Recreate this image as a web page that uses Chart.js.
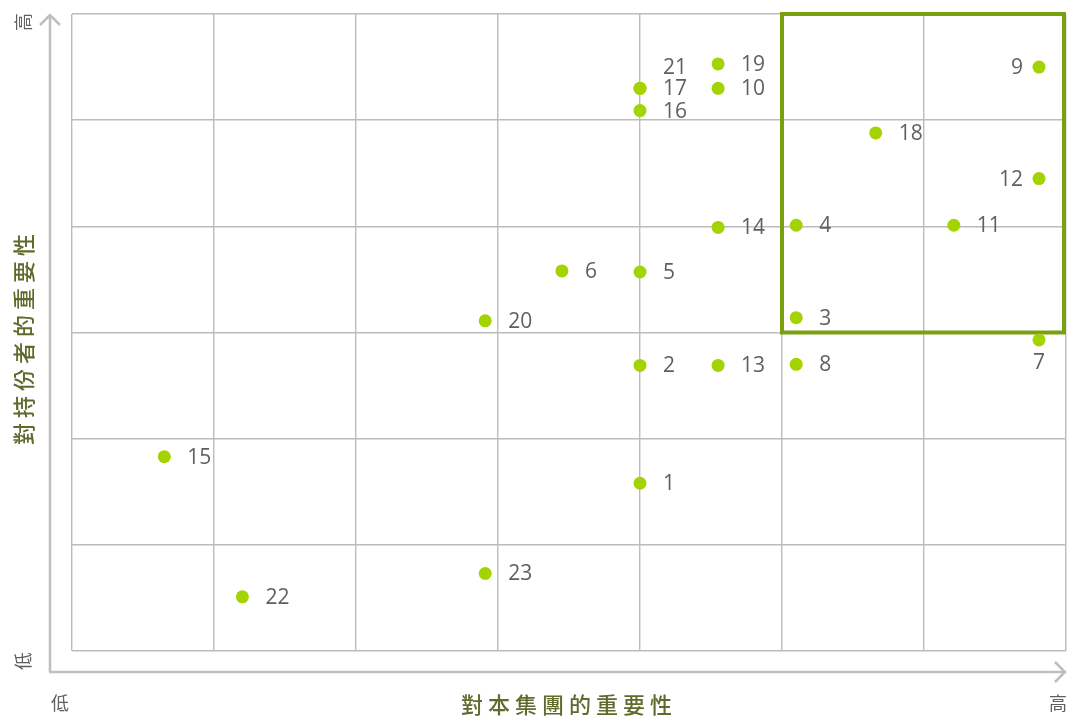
<!DOCTYPE html>
<html>
<head>
<meta charset="utf-8">
<style>
html,body{margin:0;padding:0;background:#fff;}
#wrap{width:1067px;height:717px;}
</style>
<script src="https://cdn.jsdelivr.net/npm/chart.js@4"></script>
</head>
<body>
<div id="wrap"><canvas id="c" width="1067" height="717"></canvas></div>
<script>
// ---- Data ----
const issueIds = ['1','2','3','4','5','6','7','8','9','10','11','12','13','14','15','16','17','18','19','20','21','22','23'];
const groupImportance = [4.00,4.00,5.10,5.10,4.00,3.45,6.81,5.10,6.81,4.55,6.21,6.81,4.55,4.55,0.65,4.00,4.00,5.66,4.55,2.91,4.00,1.20,2.91];
const stakeholderImportance = [1.58,2.69,3.14,4.01,3.57,3.58,2.93,2.70,5.50,5.30,4.01,4.45,2.69,3.99,1.83,5.09,5.30,4.88,5.53,3.11,5.30,0.51,0.73];
const labelSides = ['right','right','right','right','right','right','below','right','left','right','right','left','right','right','right','right','right','right','right','right','above','right','right'];
const xRange = [0, 7];
const yRange = [0, 6];
const highlightX = [5, 7];
const highlightY = [3, 6];
const lowText = '低';
const highText = '高';
const xTitleText = '對本集團的重要性';
const yTitleText = '對持份者的重要性';

const points = issueIds.map((id, i) => ({x: groupImportance[i], y: stakeholderImportance[i]}));

const GRAY_TEXT = '#606060';
const TITLE_COLOR = '#5f6b2d';
const AXIS_COLOR = '#bfbfbf';
const CJK = '"Noto Sans CJK TC", "Noto Sans CJK SC", sans-serif';

const decorPlugin = {
  id: 'decor',
  beforeDatasetsDraw(chart) {
    const {ctx, scales: {x, y}} = chart;
    ctx.save();
    ctx.strokeStyle = '#78a00f';
    ctx.lineWidth = 4;
    const x0 = x.getPixelForValue(highlightX[0]);
    const x1 = x.getPixelForValue(highlightX[1]) - 2;
    const y0 = y.getPixelForValue(highlightY[1]);
    const y1 = y.getPixelForValue(highlightY[0]);
    ctx.strokeRect(x0, y0, x1 - x0, y1 - y0);
    ctx.restore();
  },
  afterDatasetsDraw(chart) {
    const {ctx} = chart;
    const meta = chart.getDatasetMeta(0);
    ctx.save();
    ctx.fillStyle = GRAY_TEXT;
    ctx.font = '21px "Open Sans", sans-serif';
    meta.data.forEach((pt, i) => {
      const side = labelSides[i];
      const txt = issueIds[i];
      if (side === 'right') {
        ctx.textAlign = 'left'; ctx.textBaseline = 'middle';
        ctx.fillText(txt, pt.x + 23, pt.y + 1);
      } else if (side === 'left') {
        ctx.textAlign = 'right'; ctx.textBaseline = 'middle';
        ctx.fillText(txt, pt.x - 16, pt.y + 1);
      } else if (side === 'below') {
        ctx.textAlign = 'center'; ctx.textBaseline = 'middle';
        ctx.fillText(txt, pt.x, pt.y + 23);
      } else if (side === 'above') {
        ctx.textAlign = 'left'; ctx.textBaseline = 'middle';
        ctx.fillText(txt, pt.x + 23, pt.y - 20);
      }
    });
    ctx.restore();
  },
  afterDraw(chart) {
    const {ctx, chartArea: a} = chart;
    const ox = a.left - 22, oy = a.bottom + 21;
    ctx.save();
    ctx.strokeStyle = AXIS_COLOR;
    ctx.lineWidth = 2.5;
    ctx.lineCap = 'butt';
    // vertical axis
    ctx.beginPath();
    ctx.moveTo(ox, oy); ctx.lineTo(ox, a.top + 1);
    ctx.stroke();
    ctx.beginPath();
    ctx.moveTo(ox - 10, a.top + 11); ctx.lineTo(ox, a.top + 1); ctx.lineTo(ox + 10, a.top + 11);
    ctx.stroke();
    // horizontal axis
    ctx.beginPath();
    ctx.moveTo(ox - 1, oy); ctx.lineTo(a.right - 1, oy);
    ctx.stroke();
    ctx.beginPath();
    ctx.moveTo(a.right - 11, oy - 10); ctx.lineTo(a.right - 1, oy); ctx.lineTo(a.right - 11, oy + 10);
    ctx.stroke();

    // low / high labels
    ctx.fillStyle = GRAY_TEXT;
    ctx.font = '18px ' + CJK;
    ctx.textAlign = 'center'; ctx.textBaseline = 'middle';
    ctx.fillText(lowText, 60, 703);
    ctx.fillText(highText, 1058, 703);
    ctx.save(); ctx.translate(23, 22); ctx.rotate(-Math.PI / 2); ctx.fillText(highText, 0, 0); ctx.restore();
    ctx.save(); ctx.translate(23, 661); ctx.rotate(-Math.PI / 2); ctx.fillText(lowText, 0, 0); ctx.restore();

    // titles
    ctx.fillStyle = TITLE_COLOR;
    ctx.font = '500 22px ' + CJK;
    try { ctx.letterSpacing = '5px'; } catch (e) {}
    ctx.textAlign = 'center'; ctx.textBaseline = 'middle';
    ctx.fillText(xTitleText, 569, 705);
    ctx.save(); ctx.translate(24, 337); ctx.rotate(-Math.PI / 2); ctx.fillText(yTitleText, 0, 0); ctx.restore();
    ctx.restore();
  }
};

new Chart(document.getElementById('c'), {
  type: 'scatter',
  data: {
    datasets: [{
      data: points,
      backgroundColor: '#a3d300',
      borderWidth: 0,
      pointRadius: 6.5,
      pointHoverRadius: 6.5,
      clip: false
    }]
  },
  options: {
    responsive: false,
    animation: false,
    events: [],
    layout: {autoPadding: false, padding: {left: 72, top: 14, right: 1, bottom: 66}},
    plugins: {legend: {display: false}, tooltip: {enabled: false}},
    scales: {
      x: {
        type: 'linear', min: xRange[0], max: xRange[1],
        ticks: {display: false, stepSize: 1},
        grid: {color: '#bcbcbc', lineWidth: 1.4, drawTicks: false},
        border: {display: false}
      },
      y: {
        type: 'linear', min: yRange[0], max: yRange[1],
        ticks: {display: false, stepSize: 1},
        grid: {color: '#bcbcbc', lineWidth: 1.4, drawTicks: false},
        border: {display: false}
      }
    }
  },
  plugins: [decorPlugin]
});
</script>
</body>
</html>
